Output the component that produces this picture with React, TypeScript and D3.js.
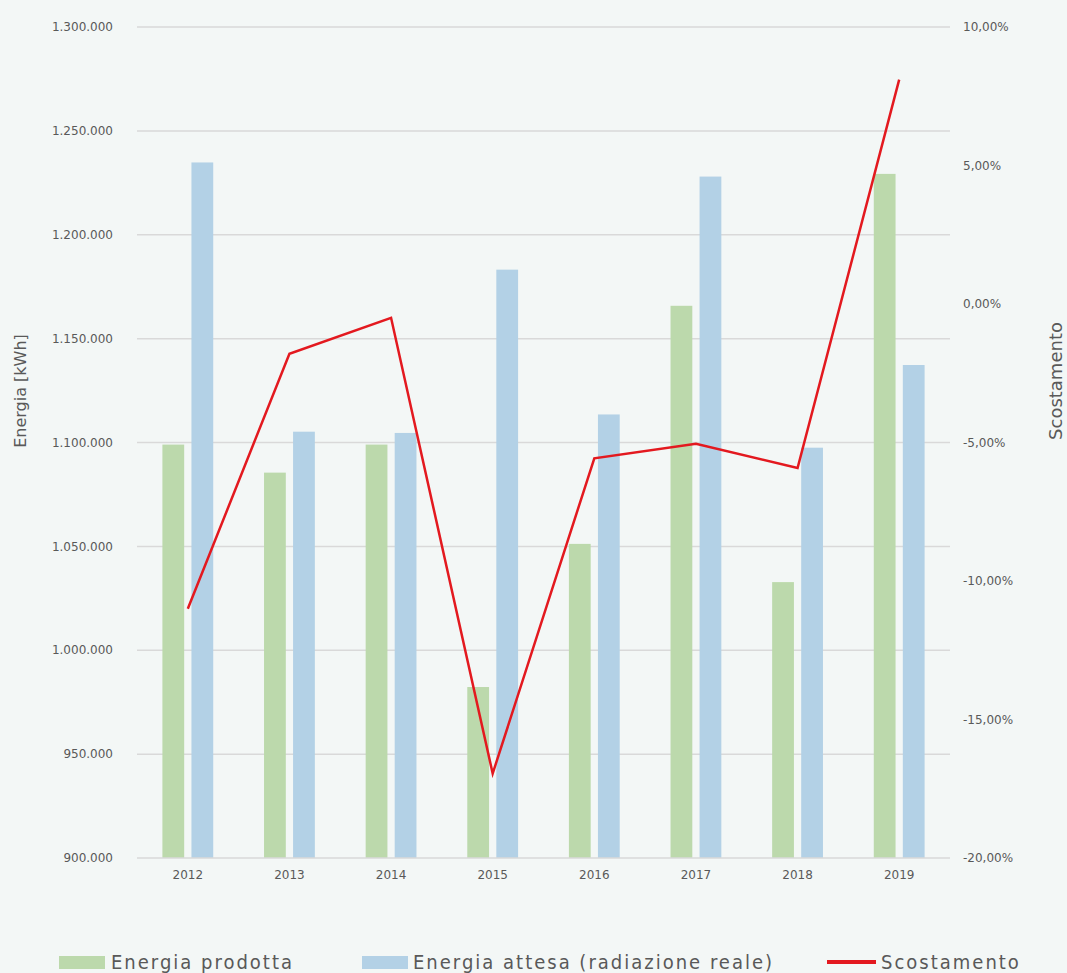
import React from "react";
import * as d3 from "d3";

const years = ["2012", "2013", "2014", "2015", "2016", "2017", "2018", "2019"];
const energiaProdotta = [1099000, 1085500, 1099000, 982300, 1051200, 1165800, 1032800, 1229300];
const energiaAttesa = [1234800, 1105200, 1104600, 1183200, 1113500, 1228000, 1097500, 1137300];
const scostamento = [-11.0, -1.8, -0.5, -16.95, -5.57, -5.05, -5.92, 8.1];
const leftTicks = [900000, 950000, 1000000, 1050000, 1100000, 1150000, 1200000, 1250000, 1300000];
const rightTicks = [-20, -15, -10, -5, 0, 5, 10];

const W = 1067;
const H = 973;
const left = 137;
const right = 950;
const top = 27;
const bottom = 858;

const GREEN = "#bcd9ac";
const BLUE = "#b3d1e6";
const RED = "#e3191f";
const TEXT = "#595959";
const GRID = "#d9d9d9";
const FONT = "'DejaVu Sans', sans-serif";

const locale = d3.formatLocale({ decimal: ",", thousands: ".", grouping: [3], currency: ["€", ""], minus: "-" });
const fmtInt = locale.format(",d");
const fmtPct = locale.format(",.2f");

export default function App() {
  const x = d3.scaleBand<string>().domain(years).range([left, right]).paddingInner(0.5).paddingOuter(0.25);
  const xi = d3.scaleBand<string>().domain(["p", "a"]).range([0, x.bandwidth()]).paddingInner(0.25);
  const yL = d3.scaleLinear().domain([900000, 1300000]).range([bottom, top]);
  const yR = d3.scaleLinear().domain([-20, 10]).range([bottom, top]);
  const line = d3
    .line<number>()
    .x((_, i) => (x(years[i]) as number) + x.bandwidth() / 2)
    .y((d) => yR(d));

  return (
    <svg width={W} height={H} style={{ position: "absolute", left: 0, top: 0, background: "#f3f7f6" }}>
      <rect x={0} y={0} width={W} height={H} fill="#f3f7f6" />
      {leftTicks.map((t) => (
        <g key={t}>
          {t !== 900000 && (
            <line x1={left} x2={right} y1={yL(t)} y2={yL(t)} stroke={GRID} strokeWidth={1.5} />
          )}
          <text x={113} y={yL(t)} dy="0.35em" textAnchor="end" fontSize={12} fontFamily={FONT} fill={TEXT}>
            {fmtInt(t)}
          </text>
        </g>
      ))}
      {rightTicks.map((t) => (
        <text key={t} x={963} y={yR(t)} dy="0.35em" textAnchor="start" fontSize={12} fontFamily={FONT} fill={TEXT}>
          {fmtPct(t) + "%"}
        </text>
      ))}
      {years.map((yr, i) => (
        <g key={yr}>
          <rect
            x={(x(yr) as number) + (xi("p") as number)}
            y={yL(energiaProdotta[i])}
            width={xi.bandwidth()}
            height={bottom - yL(energiaProdotta[i])}
            fill={GREEN}
          />
          <rect
            x={(x(yr) as number) + (xi("a") as number)}
            y={yL(energiaAttesa[i])}
            width={xi.bandwidth()}
            height={bottom - yL(energiaAttesa[i])}
            fill={BLUE}
          />
          <text
            x={(x(yr) as number) + x.bandwidth() / 2}
            y={875}
            dy="0.35em"
            textAnchor="middle"
            fontSize={12}
            fontFamily={FONT}
            fill={TEXT}
          >
            {yr}
          </text>
        </g>
      ))}
      <line x1={left} x2={right} y1={bottom} y2={bottom} stroke={GRID} strokeWidth={1.5} />
      <path d={line(scostamento) || ""} fill="none" stroke={RED} strokeWidth={2.5} strokeLinejoin="miter" />
      <text
        transform={`translate(26,${391}) rotate(-90)`}
        textAnchor="middle"
        fontSize={16}
        fontFamily={FONT}
        fill={TEXT}
      >
        Energia [kWh]
      </text>
      <text
        transform={`translate(1062,${381}) rotate(-90)`}
        textAnchor="middle"
        fontSize={18}
        fontFamily={FONT}
        fill={TEXT}
      >
        Scostamento
      </text>
      {/* legend */}
      <g fontFamily={FONT} fontSize={20} fill={TEXT} style={{ fontStretch: "condensed" }} letterSpacing={2}>
        <rect x={59} y={956} width={46} height={13} fill={GREEN} />
        <text x={111} y={969}>Energia prodotta</text>
        <rect x={362} y={956} width={46} height={13} fill={BLUE} />
        <text x={413} y={969}>Energia attesa (radiazione reale)</text>
        <line x1={827} x2={876} y1={962} y2={962} stroke={RED} strokeWidth={4} />
        <text x={881} y={969}>Scostamento</text>
      </g>
    </svg>
  );
}
